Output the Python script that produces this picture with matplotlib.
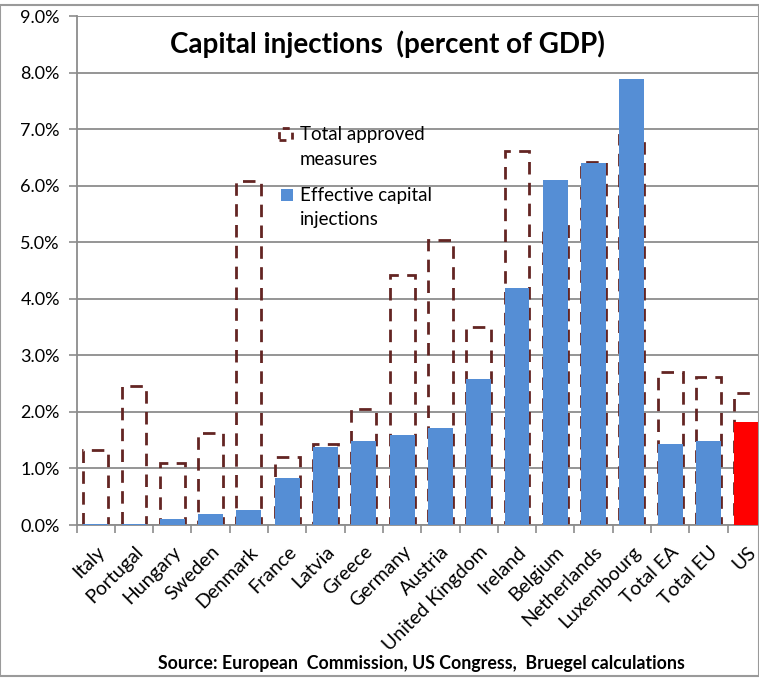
import matplotlib.pyplot as plt
from matplotlib.patches import Rectangle

plt.rcParams['font.family'] = ['Lato', 'DejaVu Sans']

countries = ["Italy", "Portugal", "Hungary", "Sweden", "Denmark", "France", "Latvia",
             "Greece", "Germany", "Austria", "United Kingdom", "Ireland", "Belgium",
             "Netherlands", "Luxembourg", "Total EA", "Total EU", "US"]
approved = [1.32, 2.46, 1.10, 1.63, 6.08, 1.21, 1.43, 2.05, 4.43, 5.05,
            3.51, 6.62, 5.30, 6.42, 6.90, 2.70, 2.62, 2.33]
effective = [0.02, 0.02, 0.11, 0.19, 0.27, 0.84, 1.38, 1.48, 1.60, 1.72,
             2.58, 4.20, 6.11, 6.40, 7.90, 1.44, 1.48, 1.83]
yticks = [0, 1, 2, 3, 4, 5, 6, 7, 8, 9]

maroon = "#632523"
blue = "#558ED5"
grid_gray = "#8C8C8C"
W, H = 759, 679

fig = plt.figure(figsize=(7.59, 6.79), dpi=100)
ax = fig.add_axes([0.1008, 0.2268, 0.9083, 0.749])

x = range(len(countries))
width = 0.65
ax.bar(x, approved, width=width, facecolor="none", edgecolor=maroon,
       linewidth=2.0, linestyle=(0, (4.5, 3)), zorder=2)
colors = [blue] * (len(countries) - 1) + ["#FF0000"]
ax.bar(x, effective, width=width, color=colors, zorder=3)

ax.set_xlim(-0.5, len(countries) - 0.5)
ax.set_ylim(0, 9)
ax.set_yticks(yticks)
ax.set_yticklabels([f"{v:.1f}%" for v in yticks], fontsize=13)
ax.set_xticks([i - 0.5 for i in range(len(countries))], minor=False)
ax.set_xticklabels([])
ax.set_xticks(list(x), minor=True)
ax.set_xticklabels(countries, minor=True, rotation=45, ha="right",
                   rotation_mode="anchor", fontsize=14)
ax.tick_params(axis="x", which="minor", length=0, pad=13)
ax.tick_params(axis="x", which="major", length=6, color=grid_gray, width=1.2)
ax.tick_params(axis="y", length=6, color=grid_gray, width=1.2, pad=6)

ax.yaxis.grid(True, color=grid_gray, linewidth=1.3, zorder=0)
ax.set_axisbelow(True)
for side in ["top", "right"]:
    ax.spines[side].set_visible(False)
for side in ["left", "bottom"]:
    ax.spines[side].set_color(grid_gray)
    ax.spines[side].set_linewidth(1.3)

# legend drawn by hand, Excel style (symbol next to the first line)
fig.patches.append(Rectangle((279 / W, 1 - 140 / H), 13 / W, 12 / H, transform=fig.transFigure,
                             fill=False, edgecolor=maroon, linewidth=2.0,
                             linestyle=(0, (2.5, 2.5))))
fig.patches.append(Rectangle((281 / W, 1 - 201 / H), 12 / W, 12 / H, transform=fig.transFigure,
                             facecolor=blue, edgecolor="none"))
for txt, ypix in [("Total approved", 140), ("measures", 165),
                  ("Effective capital", 201), ("injections", 225)]:
    fig.text(300 / W, 1 - ypix / H, txt, ha="left", va="baseline", fontsize=13.5)

fig.text(0.511, 0.935, "Capital injections  (percent of GDP)", ha="center", va="center",
         fontsize=20, fontweight="bold")
fig.text(0.555, 0.023, "Source: European  Commission, US Congress,  Bruegel calculations",
         ha="center", va="center", fontsize=12.8, fontweight="bold")

fig.patches.append(Rectangle((0, 0.004), 1.0, 0.989, transform=fig.transFigure,
                             fill=False, edgecolor="#9A9A9A", linewidth=1.5))

fig.savefig("out.png", dpi=100)
